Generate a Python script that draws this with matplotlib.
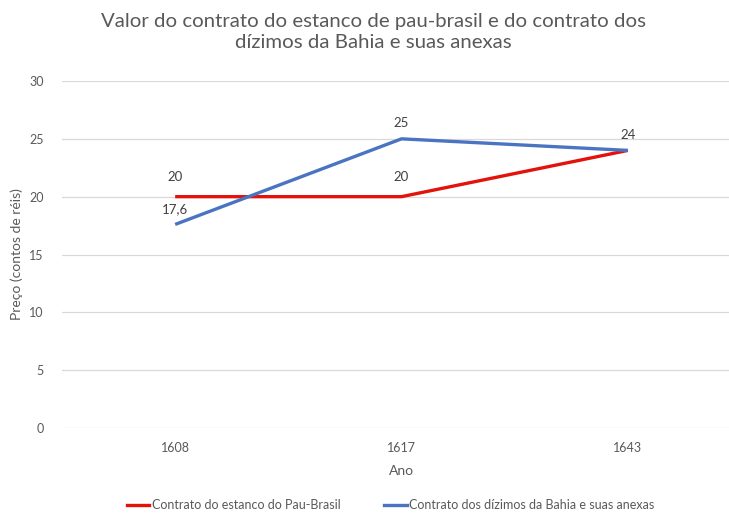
import matplotlib.pyplot as plt
from matplotlib.lines import Line2D

plt.rcParams["font.family"] = ["Lato", "DejaVu Sans"]

anos = ["1608", "1617", "1643"]
pau_brasil = [20, 20, 24]
dizimos = [17.6, 25, 24]
rotulos_pau = ["20", "20", ""]
rotulos_diz = ["17,6", "25", "24"]

RED = "#E3120B"
BLUE = "#4A74C1"
GRID = "#D9D9D9"
TXT = "#595959"

fig = plt.figure(figsize=(7.29, 5.13), dpi=100)
ax = fig.add_axes([62 / 729, 1 - 428 / 513, 679 / 729, (428 - 81) / 513])

x = list(range(len(anos)))
ax.plot(x, pau_brasil, color=RED, linewidth=2.4, solid_capstyle="butt", zorder=3)
ax.plot(x, dizimos, color=BLUE, linewidth=2.4, solid_capstyle="butt", zorder=3)

for xi, v, t in zip(x, pau_brasil, rotulos_pau):
    if t:
        ax.annotate(t, (xi, v), xytext=(0, 10), textcoords="offset points",
                    ha="center", va="bottom", fontsize=9.5, color="#404040")
for xi, v, t in zip(x, dizimos, rotulos_diz):
    ax.annotate(t, (xi, v), xytext=(0, 7), textcoords="offset points",
                ha="center", va="bottom", fontsize=9.5, color="#404040")

ax.set_xlim(-0.5, 2.5)
ax.set_ylim(0, 30)
ax.set_yticks(range(0, 31, 5))
ax.set_xticks(x)
ax.set_xticklabels(anos)
ax.grid(axis="y", color=GRID, linewidth=0.9)
ax.set_axisbelow(True)
for s in ax.spines.values():
    s.set_visible(False)
ax.tick_params(length=0, labelsize=9, labelcolor=TXT)
ax.tick_params(axis="y", pad=13)
ax.tick_params(axis="x", pad=10)

ax.set_xlabel("Ano", fontsize=10, color=TXT, labelpad=8)
ax.set_ylabel("Preço (contos de réis)", fontsize=10, color=TXT)
ax.yaxis.set_label_coords(-0.058, 0.5)

fig.text(0.512, 0.975, "Valor do contrato do estanco de pau-brasil e do contrato dos\n"
         "dízimos da Bahia e suas anexas", ha="center", va="top",
         fontsize=14.7, color=TXT, linespacing=1.3)

handles = [Line2D([], [], color=RED, linewidth=2.4),
           Line2D([], [], color=BLUE, linewidth=2.4)]
fig.legend(handles, ["Contrato do estanco do Pau-Brasil",
                     "Contrato dos dízimos da Bahia e suas anexas"],
           loc="center", bbox_to_anchor=(0.536, 0.015), ncol=2, frameon=False,
           fontsize=9, labelcolor=TXT, handlelength=1.8, handletextpad=0.2,
           columnspacing=3.5)

fig.savefig("out.png", dpi=100)
